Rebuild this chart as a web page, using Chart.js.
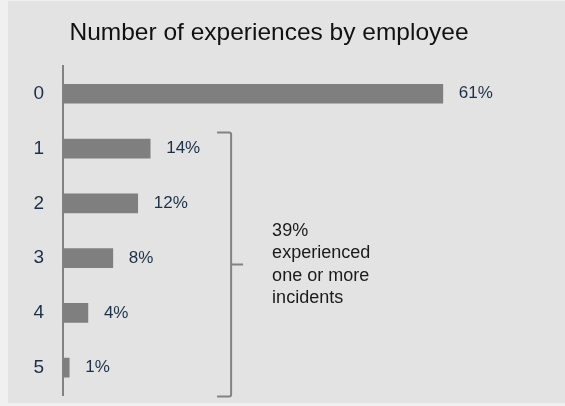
<!DOCTYPE html>
<html>
<head>
<meta charset="utf-8">
<script src="https://cdn.jsdelivr.net/npm/chart.js@4"></script>
<style>
  html, body { margin: 0; padding: 0; background: #f0f0f0; overflow: hidden; }
  #panel { position: absolute; left: 8px; top: 1px; width: 557px; height: 402px; background: #e3e3e3; }
  #myChart { display: block; }
</style>
</head>
<body>
<div id="panel"><canvas id="myChart" width="557" height="402"></canvas></div>
<script>
const experiences = ["0", "1", "2", "3", "4", "5"];
const shares = [61, 14, 12, 8, 4, 1];
const noteLines = ["39%", "experienced", "one or more", "incidents"];
const braceFrom = 1; // bracket covers employees with 1..5 experiences
const braceTo = 5;

const FONT = "'Liberation Sans', Arial, sans-serif";

// value labels + bracket note
const annotations = {
  id: "annotations",
  afterDatasetsDraw(chart) {
    const ctx = chart.ctx;
    const meta = chart.getDatasetMeta(0);
    const xs = chart.scales.x;
    const ys = chart.scales.y;

    ctx.save();
    ctx.font = "17px " + FONT;
    ctx.fillStyle = "#1c3049";
    ctx.textBaseline = "middle";
    ctx.textAlign = "left";
    meta.data.forEach((bar, i) => {
      ctx.fillText(shares[i] + "%", bar.x + 16, bar.y);
    });

    // bracket
    const top = ys.getPixelForValue(braceFrom) - 16;
    const bottom = ys.getPixelForValue(braceTo) + 29;
    const bx = xs.getPixelForValue(27);
    const mid = (top + bottom) / 2;
    ctx.strokeStyle = "#828282";
    ctx.lineWidth = 2;
    ctx.beginPath();
    ctx.moveTo(bx - 14, top);
    ctx.lineTo(bx - 2, top);
    ctx.quadraticCurveTo(bx, top, bx, top + 2);
    ctx.lineTo(bx, bottom - 2);
    ctx.quadraticCurveTo(bx, bottom, bx - 2, bottom);
    ctx.lineTo(bx - 14, bottom);
    ctx.moveTo(bx, mid);
    ctx.lineTo(bx + 12, mid);
    ctx.stroke();

    ctx.font = "18px " + FONT;
    ctx.fillStyle = "#1a1a1a";
    const lh = 22.5;
    noteLines.forEach((t, i) => {
      ctx.fillText(t, bx + 41, mid + (i - (noteLines.length - 1) / 2) * lh);
    });
    ctx.restore();
  }
};

const config = {
  type: "bar",
  data: {
    labels: experiences,
    datasets: [{
      data: shares,
      backgroundColor: "#7f7f7f",
      borderWidth: 0,
      barThickness: 19,
    }],
  },
  options: {
    indexAxis: "y",
    responsive: false,
    animation: false,
    layout: { padding: { left: 0, right: 35, top: 0, bottom: 8 } },
    plugins: {
      legend: { display: false },
      tooltip: { enabled: false },
      title: {
        display: true,
        text: "Number of experiences by employee",
        color: "#111111",
        font: { family: FONT, size: 24.5, weight: "normal" },
        padding: { top: 18, bottom: 18 },
      },
    },
    scales: {
      x: {
        display: false,
        min: 0,
        max: 75,
      },
      y: {
        grid: { display: false, drawTicks: false },
        border: { display: true, color: "#828282", width: 2 },
        ticks: {
          color: "#1c3049",
          font: { family: FONT, size: 19 },
          padding: 19,
        },
        afterFit(scale) {
          scale.width = 55;
          scale.paddingTop = 0;
          scale.paddingBottom = 0;
        },
      },
    },
  },
  plugins: [annotations],
};

const myChart = new Chart(document.getElementById("myChart"), config);
</script>
</body>
</html>
